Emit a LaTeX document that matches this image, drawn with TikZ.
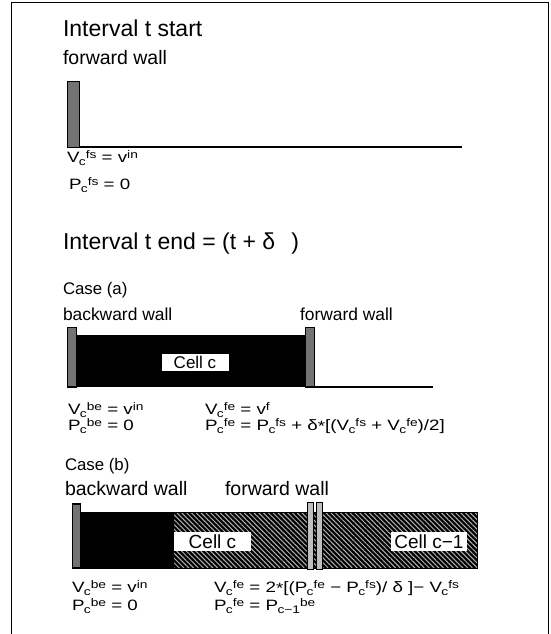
\documentclass[tikz,border=0pt]{standalone}
\usepackage{fontspec}
\setmainfont{Liberation Sans}
% wide face for the relations
\newfontfamily\eqfont[FakeStretch=1.25]{Liberation Sans}
\usetikzlibrary{patterns.meta}
% index pair: subscript then superscript, set after a capital letter
\newcommand\ix[2]{\kern-0.04em\raisebox{-0.45ex}{\fontsize{11}{11}\selectfont #1}\raisebox{0.5ex}{\fontsize{11}{11}\selectfont #2}}
% superscript only
\newcommand\sps[1]{\raisebox{0.5ex}{\fontsize{11}{11}\selectfont #1}}
\begin{document}
\begin{tikzpicture}[x=1pt,y=-1pt,
  txt/.style={anchor=base west,inner sep=0pt,outer sep=0pt},
  heading/.style={txt,font=\fontsize{23}{23}\selectfont},
  casehd/.style={txt,font=\fontsize{16.8}{16.8}\selectfont},
  lbla/.style={txt,font=\fontsize{17.4}{17.4}\selectfont},
  lbl/.style={txt,font=\fontsize{19.5}{19.5}\selectfont},
  eqn/.style={txt,font=\eqfont\fontsize{15}{15}\selectfont},
  wallbox/.style={draw=black,line width=1.3pt,fill=black!55},
  thinwall/.style={draw=black,line width=0.9pt,fill=black!25},
  floor/.style={line width=2pt},
  cellbox/.style={fill=white,inner sep=0pt,outer sep=0pt},
  hatch/.style={preaction={fill=black},
    pattern={Lines[angle=-45,distance=3.4pt,line width=1pt]},pattern color=white!70!black},
]
\useasboundingbox (0,0) rectangle (550,634);

% outer frame
\draw[line width=1pt] (11,640) -- (11,3) -- (548,3) -- (548,640);

% ---------- interval start ----------
\node[heading] (t1) at (63,37) {Interval t start};
\node[lbl] (fw0) at (63,64.5) {forward wall};
\draw[floor] (80,147) -- (462,147);
\draw[wallbox] (67.5,81.5) rectangle (79.5,147.5);
\node[eqn] (v0) at (67,162) {V\ix{c}{fs} = v\sps{in}};
\node[eqn] (p0) at (69,189) {P\ix{c}{fs} = 0};

% ---------- interval end ----------
\node[heading] (t2) at (63,249) {Interval t end = (t + δ\hspace{0.7em})};

% case (a)
\node[casehd] (ca) at (63,294) {Case (a)};
\node[lbla] (bwa) at (63,320) {backward wall};
\node[lbla] (fwa) at (300,320) {forward wall};
\fill[black] (72,335) rectangle (310,387);
\draw[floor] (314,387) -- (433,387);
\draw[wallbox] (67.5,327.5) rectangle (76.5,387);
\draw[wallbox] (305.5,327.5) rectangle (314.5,387);
\node[cellbox,minimum width=67pt,minimum height=17pt,font=\fontsize{17}{17}\selectfont] (cella) at (195,362) {Cell c};
\node[eqn] (va1) at (68,414) {V\ix{c}{be} = v\sps{in}};
\node[eqn] (pa1) at (68,430) {P\ix{c}{be} = 0};
\node[eqn] (va2) at (205,414) {V\ix{c}{fe} = v\sps{f}};
\node[eqn] (pa2) at (205,430) {P\ix{c}{fe} = P\ix{c}{fs} + δ\raisebox{-0.25ex}{*}[(V\ix{c}{fs} + V\ix{c}{fe})/2]};

% case (b)
\node[casehd] (cb) at (65,470) {Case (b)};
\node[lbl] (bwb) at (65,495) {backward wall};
\node[lbl] (fwb) at (225,495) {forward wall};
\fill[black] (80,512) rectangle (174,568);
\path[hatch] (174,512) rectangle (477,568);
\draw[line width=1pt] (80,512) rectangle (477,568);
\draw[wallbox] (72.5,504) rectangle (80.5,568);
\draw[thinwall] (307,502) rectangle (313,569);
\draw[thinwall] (316,502) rectangle (322.5,569);
\node[cellbox,minimum width=77pt,minimum height=19pt,font=\fontsize{19}{19}\selectfont] (cellb) at (212.5,541.5) {Cell c};
\node[cellbox,minimum width=76pt,minimum height=19pt,font=\fontsize{19}{19}\selectfont] (cellb1) at (429,541.5) {Cell c−1};
\node[eqn] (vb1) at (72,592) {V\ix{c}{be} = v\sps{in}};
\node[eqn] (pb1) at (72,610) {P\ix{c}{be} = 0};
\node[eqn] (vb2) at (214,592) {V\ix{c}{fe} = 2\raisebox{-0.25ex}{*}[(P\ix{c}{fe} − P\ix{c}{fs})/ δ ]− V\ix{c}{fs}};
\node[eqn] (pb2) at (214,610) {P\ix{c}{fe} = P\ix{c−1}{be}};
\end{tikzpicture}
\end{document}
